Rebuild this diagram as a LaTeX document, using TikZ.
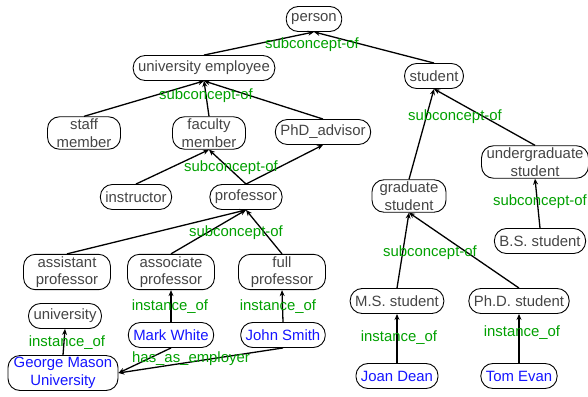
\documentclass[tikz,border=0pt]{standalone}
\usepackage{fontspec}
\setmainfont{Liberation Sans}
\usetikzlibrary{arrows.meta}
\definecolor{cgray}{RGB}{68,68,68}
\definecolor{cblue}{RGB}{20,20,255}
\definecolor{cgreen}{RGB}{0,160,0}
\tikzset{
  box/.style={draw=black, line width=0.9pt, rounded corners=12pt, inner xsep=5pt, inner ysep=2pt,
    minimum height=25pt, align=center, font=\fontsize{14.9}{17.5}\selectfont, text=cgray},
  inst/.style={box, text=cblue},
  lab/.style={inner sep=0pt, font=\fontsize{14.9}{17.5}\selectfont, text=cgreen},
  rel/.style={line width=1.3pt, -{Stealth[length=6pt,width=5pt]}}
}
\begin{document}
\begin{tikzpicture}[x=1pt,y=-1pt]
\useasboundingbox (0,0) rectangle (588,396);
% nodes
\node[box] (person) at (314,19) {person};
\node[box] (uemp) at (204,68) {university employee};
\node[box] (student) at (434,76) {student};
\node[box, minimum width=73pt] (staff) at (84,133) {staff\\member};
\node[box, minimum width=73pt] (faculty) at (209,133) {faculty\\member};
\node[box] (phd) at (323,132) {PhD\_advisor};
\node[box] (ugrad) at (535,162) {undergraduate\\student};
\node[box, minimum width=74pt] (grad) at (409,196) {graduate\\student};
\node[box] (instr) at (136,197) {instructor};
\node[box] (prof) at (246,197) {professor};
\node[box] (bs) at (540,241) {B.S. student};
\node[box, minimum width=87pt] (asst) at (67,272) {assistant\\professor};
\node[box, minimum width=87pt] (assoc) at (171,272) {associate\\professor};
\node[box, minimum width=87pt] (full) at (282,272) {full\\professor};
\node[box] (ms) at (397,301) {M.S. student};
\node[box] (phds) at (519,301) {Ph.D. student};
\node[box] (univ) at (65,316) {university};
\node[inst] (mark) at (171,335) {Mark White};
\node[inst] (john) at (283,335) {John Smith};
\node[inst, minimum width=110pt] (gmu) at (63,373) {George Mason\\University};
\node[inst] (joan) at (397,376) {Joan Dean};
\node[inst] (tom) at (519,376) {Tom Evan};
% edges
\draw[rel] (uemp.north) -- (person.south);
\draw[rel] (student.north) -- (person.south);
\draw[rel] (staff.north) -- (uemp.south);
\draw[rel] (faculty.north) -- (uemp.south);
\draw[rel] (phd.north) -- (uemp.south);
\draw[rel] (instr.north) -- (faculty.south);
\draw[rel] (prof.north) -- (faculty.south);
\draw[rel] (prof.north) -- (phd.south);
\draw[rel] (asst.north) -- (prof.south);
\draw[rel] (assoc.north) -- (prof.south);
\draw[rel] (full.north) -- (prof.south);
\draw[rel] (grad.north) -- (student.south);
\draw[rel] (ugrad.north) -- (student.south);
\draw[rel] (bs.north) -- (ugrad.south);
\draw[rel] (ms.north) -- (grad.south);
\draw[rel] (phds.north) -- (grad.south);
\draw[rel] (mark.north) -- (assoc.south);
\draw[rel] (john.north) -- (full.south);
\draw[rel] (gmu.north) -- (univ.south);
\draw[rel] (joan.north) -- (ms.south);
\draw[rel] (tom.north) -- (phds.south);
\draw[rel] (mark.south) -- (gmu.east);
\draw[rel] (john.south) -- (gmu.east);
% labels
\node[lab] (l1) at (312,45) {subconcept-of};
\node[lab] (l2) at (206,96) {subconcept-of};
\node[lab] (l3) at (231,168) {subconcept-of};
\node[lab] (l4) at (455,117) {subconcept-of};
\node[lab] (l5) at (540,202) {subconcept-of};
\node[lab] (l6) at (236,233) {subconcept-of};
\node[lab] (l7) at (430,253) {subconcept-of};
\node[lab] (l8) at (170,307) {instance\_of};
\node[lab] (l9) at (278,307) {instance\_of};
\node[lab] (l10) at (67,343) {instance\_of};
\node[lab] (l11) at (191,359) {has\_as\_employer};
\node[lab] (l12) at (399,338) {instance\_of};
\node[lab] (l13) at (522,333) {instance\_of};
\end{tikzpicture}
\end{document}
